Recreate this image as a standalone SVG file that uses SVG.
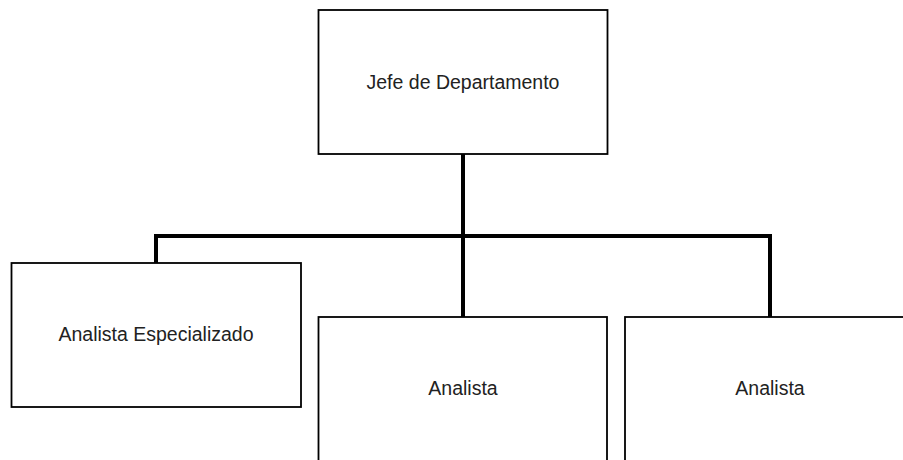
<svg xmlns="http://www.w3.org/2000/svg" width="903" height="460" viewBox="0 0 903 460">
<style>
.box{fill:#fff;stroke:#000;stroke-width:1.8}
.lbl{font-family:"Liberation Sans",Arial,sans-serif;font-size:19.5px;fill:#222;text-anchor:middle}
.con{fill:none;stroke:#000;stroke-width:4;stroke-linejoin:miter;stroke-linecap:butt}
</style>
<rect width="903" height="460" fill="#fff"/>
<g id="connectors">
<polyline class="con" points="156,263 156,236 770,236 770,317"/>
<line class="con" x1="463" y1="154" x2="463" y2="317"/>
</g>
<g id="jefe">
<rect class="box" x="318.5" y="10" width="289" height="144"/>
<text class="lbl" x="463" y="88.5">Jefe de Departamento</text>
</g>
<g id="especializado">
<rect class="box" x="11.5" y="263" width="289.5" height="144"/>
<text class="lbl" x="156" y="341">Analista Especializado</text>
</g>
<g id="analista1">
<rect class="box" x="318.5" y="317" width="288.5" height="160"/>
<text class="lbl" x="463" y="395">Analista</text>
</g>
<g id="analista2">
<rect class="box" x="625" y="317" width="289" height="160"/>
<text class="lbl" x="770" y="395">Analista</text>
</g>
</svg>
